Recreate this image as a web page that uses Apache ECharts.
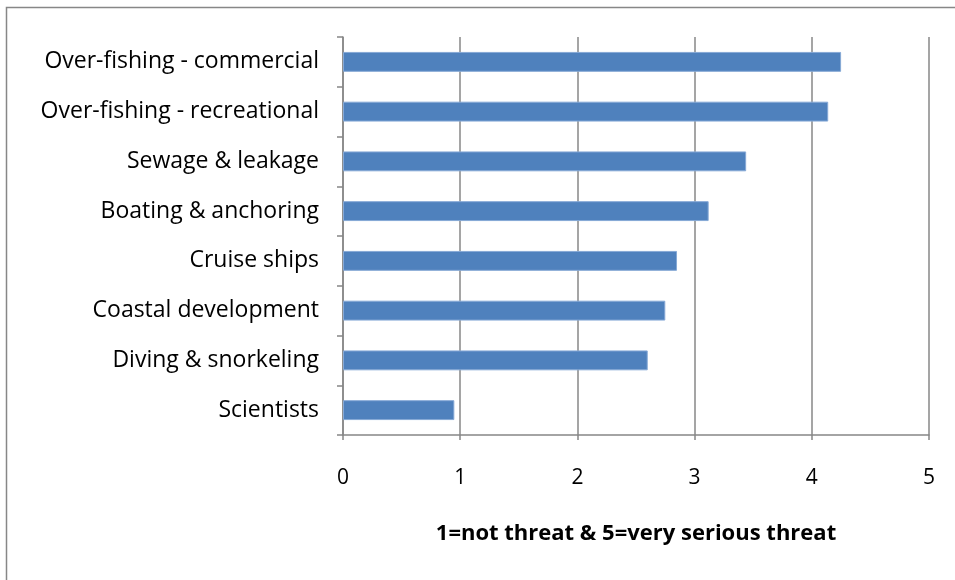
<!DOCTYPE html>
<html>
<head>
<meta charset="utf-8">
<script src="https://cdn.jsdelivr.net/npm/echarts@6/dist/echarts.min.js"></script>
<style>
    html, body {margin: 0; padding: 0; background: #fff;}
    #chart {width: 955px; height: 580px;}
</style>
</head>
<body>
<div id="chart"></div>
<script>
const categories = [
    'Over-fishing - commercial',
    'Over-fishing - recreational',
    'Sewage & leakage',
    'Boating & anchoring',
    'Cruise ships',
    'Coastal development',
    'Diving & snorkeling',
    'Scientists',
];
const scores = [4.25, 4.14, 3.44, 3.12, 2.85, 2.75, 2.60, 0.95];
const xTicks = [0, 1, 2, 3, 4, 5];
const axisTitle = '1=not threat & 5=very serious threat';

const grey = '#878787';
const font = '"Open Sans", "Liberation Sans", sans-serif';

const chart = echarts.init(document.getElementById('chart'), null, {renderer: 'canvas'});
chart.setOption({
    animation: false,
    graphic: [{
        type: 'rect',
        silent: true,
        shape: {x: 6.5, y: 7.5, width: 1000, height: 700},
        style: {fill: 'none', stroke: grey, lineWidth: 1.5},
    }],
    grid: {
        left: 343,
        right: 26,
        top: 37,
        bottom: 145,
    },
    xAxis: {
        type: 'value',
        min: xTicks[0],
        max: xTicks[xTicks.length - 1],
        interval: 1,
        name: axisTitle,
        nameLocation: 'middle',
        nameGap: 88,
        nameTextStyle: {
            fontFamily: font,
            fontWeight: 'bold',
            fontSize: 22,
            color: '#000',
        },
        axisLine: {show: true, lineStyle: {color: grey, width: 1.5}},
        axisTick: {show: true, length: 5, lineStyle: {color: grey, width: 1.5}},
        splitLine: {show: true, lineStyle: {color: grey, width: 1.5}},
        axisLabel: {
            margin: 33,
            fontFamily: font,
            fontSize: 21,
            color: '#000',
        },
    },
    yAxis: {
        type: 'category',
        inverse: true,
        data: categories,
        axisLine: {show: true, lineStyle: {color: grey, width: 1.5}},
        axisTick: {show: true, length: 6, lineStyle: {color: grey, width: 1.5}},
        axisLabel: {
            margin: 24,
            fontFamily: font,
            fontSize: 23,
            color: '#000',
        },
    },
    series: [{
        type: 'bar',
        data: scores,
        barWidth: '40%',
        itemStyle: {
            color: '#4f81bd',
            borderColor: '#86a9d6',
            borderWidth: 1,
        },
    }],
});
</script>
</body>
</html>
